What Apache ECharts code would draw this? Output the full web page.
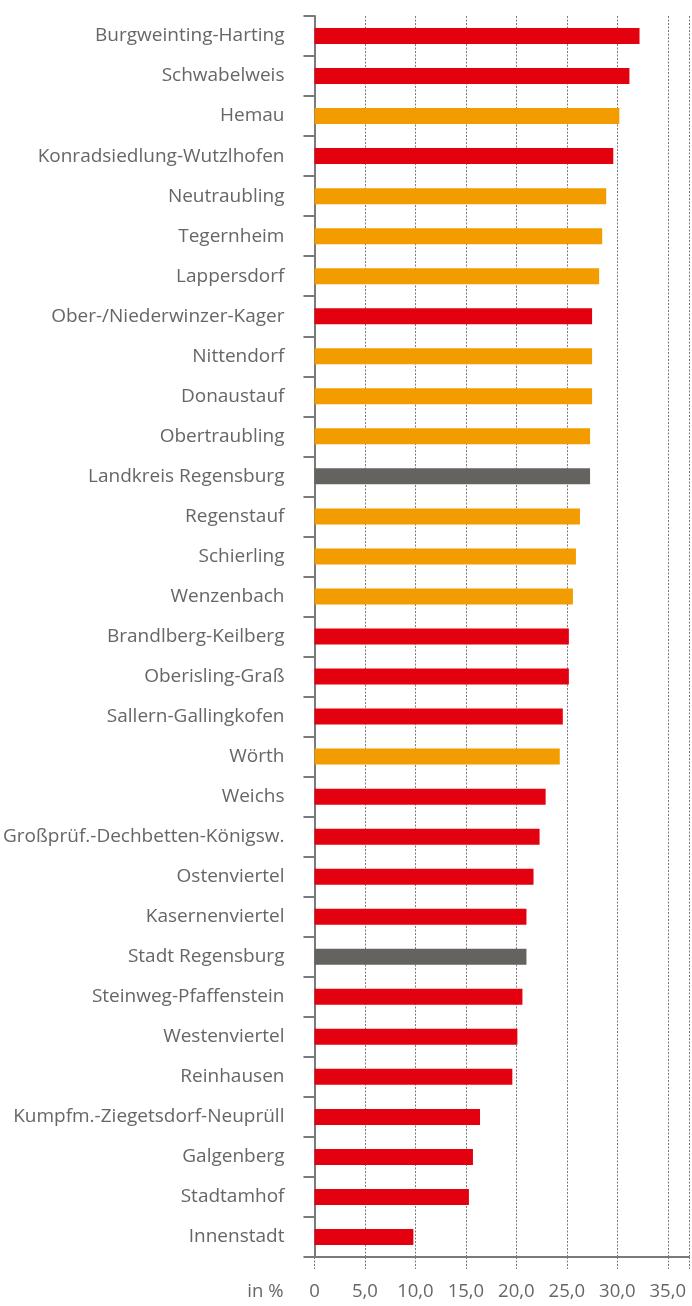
<!DOCTYPE html>
<html>
<head>
<meta charset="utf-8">
<script src="https://cdn.jsdelivr.net/npm/echarts@6.0.0/dist/echarts.min.js"></script>
<style>
    html, body { margin: 0; padding: 0; background: #fff; }
    #balken { width: 692px; height: 1306px; }
</style>
</head>
<body>
<div id="balken"></div>
<script>
var categories = ['Burgweinting-Harting', 'Schwabelweis', 'Hemau', 'Konradsiedlung-Wutzlhofen',
    'Neutraubling', 'Tegernheim', 'Lappersdorf', 'Ober-/Niederwinzer-Kager', 'Nittendorf',
    'Donaustauf', 'Obertraubling', 'Landkreis Regensburg', 'Regenstauf', 'Schierling',
    'Wenzenbach', 'Brandlberg-Keilberg', 'Oberisling-Graß', 'Sallern-Gallingkofen', 'Wörth',
    'Weichs', 'Großprüf.-Dechbetten-Königsw.', 'Ostenviertel', 'Kasernenviertel',
    'Stadt Regensburg', 'Steinweg-Pfaffenstein', 'Westenviertel', 'Reinhausen',
    'Kumpfm.-Ziegetsdorf-Neuprüll', 'Galgenberg', 'Stadtamhof', 'Innenstadt'];
var values = [32.2, 31.2, 30.2, 29.6, 28.9, 28.5, 28.2, 27.5, 27.5, 27.5, 27.3, 27.3, 26.3, 25.9,
    25.6, 25.2, 25.2, 24.6, 24.3, 22.9, 22.3, 21.7, 21.0, 21.0, 20.6, 20.1, 19.6, 16.4, 15.7, 15.3, 9.8];
// s = Stadtbezirk, l = Landkreis-Gemeinde, g = Gesamt
var groups = ['s', 's', 'l', 's', 'l', 'l', 'l', 's', 'l', 'l', 'l', 'g', 'l', 'l',
    'l', 's', 's', 's', 'l', 's', 's', 's', 's', 'g', 's', 's', 's', 's', 's', 's', 's'];
var xTicks = [0, 5, 10, 15, 20, 25, 30, 35];

var farben = { s: '#e3000f', l: '#f39c00', g: '#64635f' };
var grau = '#7a7a7a';
var schrift = 'Open Sans';

var myChart = echarts.init(document.getElementById('balken'));

var series_data = [];
for (var i = 0; i < values.length; i++) {
    series_data.push({ value: values[i], itemStyle: { color: farben[groups[i]] } });
}

var option = {
    animation: false,
    grid: { left: 314, right: 0, top: 16, bottom: 49, containLabel: false },
    xAxis: {
        type: 'value',
        min: 0,
        max: 37.1,
        interval: 5,
        name: 'in %',
        nameLocation: 'start',
        nameGap: 31,
        nameTextStyle: { color: '#666', fontFamily: schrift, fontSize: 18.5, align: 'right', verticalAlign: 'top', padding: [25, 0, 0, 0] },
        axisLine: { show: true, lineStyle: { color: grau, width: 2 } },
        axisTick: { show: true, length: 12, lineStyle: { color: grau, width: 1, type: [2, 1.5] } },
        splitLine: { show: true, lineStyle: { color: grau, width: 1, type: [2, 1.5] } },
        axisLabel: {
            color: '#666', fontFamily: schrift, fontSize: 18.5, margin: 25,
            formatter: function (v) {
                if (xTicks.indexOf(v) < 0) return '';
                return v === 0 ? '0' : v.toFixed(1).replace('.', ',');
            }
        }
    },
    yAxis: {
        type: 'category',
        inverse: true,
        data: categories,
        axisLine: { show: true, lineStyle: { color: grau, width: 2 } },
        axisTick: { show: true, length: 11, lineStyle: { color: grau, width: 2 } },
        axisLabel: { color: '#666', fontFamily: schrift, fontSize: 19, margin: 30 }
    },
    series: [{
        type: 'bar',
        barWidth: 16,
        data: series_data
    }]
};

myChart.setOption(option);
window.addEventListener("resize", function () { myChart.resize(); });
</script>
</body>
</html>
